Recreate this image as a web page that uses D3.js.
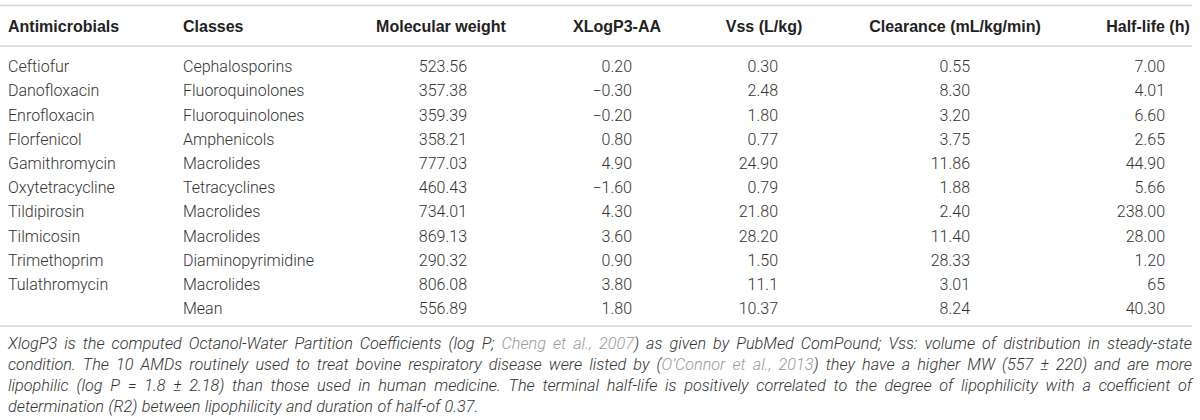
<!DOCTYPE html>
<html>
<head>
<meta charset="utf-8">
<script src="https://cdn.jsdelivr.net/npm/d3@7"></script>
<style>
	body { margin: 0; background: #fff; }
	svg text { font-family: Roboto, "Liberation Sans", sans-serif; }
	.head { font-family: "Liberation Sans", Arial, sans-serif; font-weight: bold; font-size: 16px; fill: #222; }
	.cell { font-weight: 300; font-size: 16px; fill: #333; }
	.note { font-weight: 300; font-style: italic; fill: #333; }
	.note.cite { fill: #9a9a9a; }
	.rule { stroke: #d4d4d4; stroke-width: 1.6; }
</style>
</head>
<body>
<div id="table"></div>
<script>
// table contents
const headers         = ['Antimicrobials', 'Classes', 'Molecular weight', 'XLogP3-AA', 'Vss (L/kg)', 'Clearance (mL/kg/min)', 'Half-life (h)'];
const antimicrobials  = ['Ceftiofur', 'Danofloxacin', 'Enrofloxacin', 'Florfenicol', 'Gamithromycin', 'Oxytetracycline', 'Tildipirosin', 'Tilmicosin', 'Trimethoprim', 'Tulathromycin', ''];
const classes         = ['Cephalosporins', 'Fluoroquinolones', 'Fluoroquinolones', 'Amphenicols', 'Macrolides', 'Tetracyclines', 'Macrolides', 'Macrolides', 'Diaminopyrimidine', 'Macrolides', 'Mean'];
const molecularWeight = ['523.56', '357.38', '359.39', '358.21', '777.03', '460.43', '734.01', '869.13', '290.32', '806.08', '556.89'];
const xlogp           = ['0.20', '\u22120.30', '\u22120.20', '0.80', '4.90', '\u22121.60', '4.30', '3.60', '0.90', '3.80', '1.80'];
const vss             = ['0.30', '2.48', '1.80', '0.77', '24.90', '0.79', '21.80', '28.20', '1.50', '11.1', '10.37'];
const clearance       = ['0.55', '8.30', '3.20', '3.75', '11.86', '1.88', '2.40', '11.40', '28.33', '3.01', '8.24'];
const halfLife        = ['7.00', '4.01', '6.60', '2.65', '44.90', '5.66', '238.00', '28.00', '1.20', '65', '40.30'];

// footnote, one array per printed line; [text, isCitation]
const noteLines = [
	[['XlogP3 is the computed Octanol-Water Partition Coefficients (log P; ', 0], ['Cheng et al., 2007', 1], [') as given by PubMed ComPound; Vss: volume of distribution in steady-state', 0]],
	[['condition. The 10 AMDs routinely used to treat bovine respiratory disease were listed by (', 0], ['O\u2019Connor et al., 2013', 1], [') they have a higher MW (557 \u00b1 220) and are more', 0]],
	[['lipophilic (log P = 1.8 \u00b1 2.18) than those used in human medicine. The terminal half-life is positively correlated to the degree of lipophilicity with a coefficient of', 0]],
	[['determination (R2) between lipophilicity and duration of half-of 0.37.', 0]]
];

const columns = [antimicrobials, classes, molecularWeight, xlogp, vss, clearance, halfLife];

const canvasWidth  = 1200;
const canvasHeight = 420;

// column geometry: header anchor/x, value anchor/x
const colLayout = [
	{ hx: 8,    ha: 'start',  vx: 8,    va: 'start' },
	{ hx: 183,  ha: 'start',  vx: 183,  va: 'start' },
	{ hx: 441,  ha: 'middle', vx: 467,  va: 'end' },
	{ hx: 617,  ha: 'middle', vx: 632,  va: 'end' },
	{ hx: 764,  ha: 'middle', vx: 778,  va: 'end' },
	{ hx: 955,  ha: 'middle', vx: 970,  va: 'end' },
	{ hx: 1148, ha: 'middle', vx: 1165, va: 'end' }
];

const svg = d3.select('#table').append('svg')
	.attr('width', canvasWidth)
	.attr('height', canvasHeight);

let rowStep = 24.2;
let y = d3.scaleBand()
	.domain(d3.range(antimicrobials.length))
	.range([54.4, 54.4 + rowStep * antimicrobials.length]);

let lastRow = y(antimicrobials.length - 1) + y.bandwidth() / 2;
let ruleX = [0, 1192];
let rules = [5.5, 46, lastRow + 17.5];

svg.selectAll('.rule')
	.data(rules).enter().append('line')
		.attr('class', 'rule')
		.attr('x1', ruleX[0]).attr('x2', ruleX[1])
		.attr('y1', (o) => o).attr('y2', (o) => o);

// header row
svg.append('g').selectAll('text')
	.data(headers).enter().append('text')
		.attr('class', 'head')
		.attr('x', (o, i) => colLayout[i].hx)
		.attr('y', 26)
		.attr('dy', '0.36em')
		.attr('text-anchor', (o, i) => colLayout[i].ha)
		.text((o) => o);

// body cells
columns.forEach((col, c) => {
	svg.append('g').selectAll('text')
		.data(col).enter().append('text')
			.attr('class', 'cell')
			.attr('x', colLayout[c].vx)
			.attr('y', (o, i) => y(i) + y.bandwidth() / 2)
			.attr('dy', '0.36em')
			.attr('text-anchor', colLayout[c].va)
			.text((o) => o);
});

// footnote, justified word by word
let noteY = d3.scaleBand()
	.domain(d3.range(noteLines.length))
	.range([rules[2] + 6.5, rules[2] + 6.5 + 21 * noteLines.length]);

let noteLeft = 8, noteRight = 1192;
let gNote = svg.append('g');

// size the note so its short last line ends where the reference does
let probe = gNote.append('text').attr('class', 'note').style('font-size', '16px')
	.text(noteLines[3][0][0]);
let noteSize = 16 * 467 / probe.node().getComputedTextLength();
probe.remove();
noteSize = Math.min(noteSize, 17);

noteLines.forEach((line, li) => {
	// split into words, gluing segments that touch without a space
	let words = [];
	line.forEach(([txt, cite], si) => {
		let joined = si > 0 && !line[si - 1][0].endsWith(' ') && !txt.startsWith(' ');
		txt.split(' ').forEach((p, pi) => {
			if (p === '') return;
			words.push({ text: p, cite: cite, glue: pi === 0 && joined });
		});
	});

	let cy = noteY(li) + noteY.bandwidth() / 2;
	words.forEach((w) => {
		w.node = gNote.append('text')
			.attr('class', 'note' + (w.cite ? ' cite' : ''))
			.style('font-size', noteSize + 'px')
			.attr('y', cy)
			.attr('dy', '0.36em')
			.text(w.text);
		w.width = w.node.node().getComputedTextLength();
	});

	let gaps = words.filter((w, i) => i > 0 && !w.glue).length;
	let total = d3.sum(words, (w) => w.width);
	let last = li === noteLines.length - 1;
	let gap = last ? noteSize * 0.27 : (noteRight - noteLeft - total) / gaps;

	let xPos = noteLeft;
	words.forEach((w, i) => {
		if (i > 0 && !w.glue) xPos += gap;
		w.node.attr('x', xPos);
		xPos += w.width;
	});
});
</script>
</body>
</html>
